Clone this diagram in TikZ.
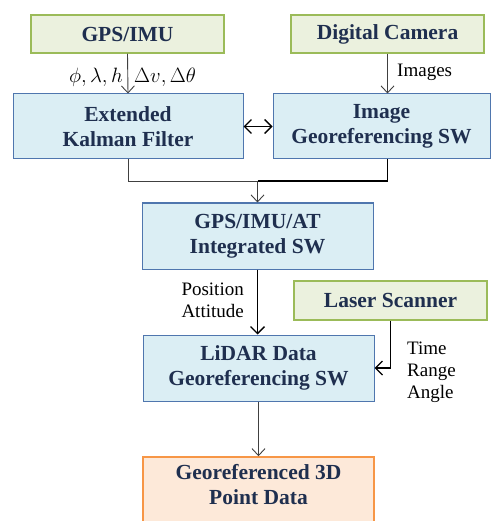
\documentclass[tikz,border=0pt]{standalone}
\usepackage{fontspec}
\setmainfont{Liberation Serif}
\usetikzlibrary{arrows.meta,positioning,calc}
\definecolor{navy}{HTML}{1F2F4F}
\definecolor{gfill}{HTML}{EBF1DE}
\definecolor{gline}{HTML}{9BBB59}
\definecolor{bfill}{HTML}{DBEEF4}
\definecolor{bline}{HTML}{4F76AE}
\definecolor{ofill}{HTML}{FDE9D9}
\definecolor{oline}{HTML}{F79646}
\definecolor{thin}{HTML}{404040}
\tikzset{
  box/.style={draw, line width=1.2pt, inner sep=0pt, align=center, text=navy,
    font=\fontsize{21.5}{25}\selectfont\bfseries},
  gbox/.style={box, fill=gfill, draw=gline, line width=1.5pt},
  bbox/.style={box, fill=bfill, draw=bline, line width=1pt},
  obox/.style={box, fill=ofill, draw=oline, line width=1.5pt},
  thinarr/.style={draw=thin, line width=0.9pt, -{Straight Barb[length=7pt,width=13pt]}},
  thinline/.style={draw=thin, line width=0.9pt},
  thickarr/.style={draw=black, line width=1.8pt, -{Straight Barb[length=7pt,width=14pt,line width=1.4pt]}},
  thickline/.style={draw=black, line width=1.8pt},
  lbl/.style={inner sep=0pt, text=black, font=\fontsize{19}{22}\selectfont, align=left},
  mlbl/.style={inner sep=0pt, text=black, font=\fontsize{20.5}{22}\selectfont}
}
\begin{document}
\begin{tikzpicture}[x=1pt,y=-1pt]
\useasboundingbox (0,0) rectangle (491,521);
\clip (0,0) rectangle (491,521);
\node[gbox, minimum width=193pt, minimum height=38pt] (gps) at (127.5,34) {GPS/IMU};
\node[gbox, minimum width=193pt, minimum height=38pt] (cam) at (387.5,34) {Digital Camera};
\node[bbox, minimum width=230pt, minimum height=65pt] (ekf) at (128,126.5) {Extended\\Kalman Filter};
\node[bbox, minimum width=217pt, minimum height=65pt] (igs) at (381.5,126.5) {Image\\Georeferencing SW};
\node[bbox, minimum width=231pt, minimum height=66pt] (int) at (257.5,236) {GPS/IMU/AT\\Integrated SW};
\node[gbox, minimum width=193pt, minimum height=39pt] (laser) at (390.5,300.5) {Laser Scanner};
\node[bbox, minimum width=231pt, minimum height=66pt] (lidar) at (258.5,368) {LiDAR Data\\Georeferencing SW};
\node[obox, minimum width=231pt, minimum height=74pt] (out) at (258.5,494) {};
\node[inner sep=0pt, align=center, text=navy, font=\fontsize{21.5}{25}\selectfont\bfseries] (outtxt) at (258.5,485) {Georeferenced 3D\\Point Data};

% GPS/IMU -> EKF
\draw[thinarr] (gps.south) -- (ekf.north);
\node[mlbl, anchor=east] (l1) at (123,77) {$\phi,\lambda,h$};
\node[mlbl, anchor=west] (l2) at (134,77) {$\Delta v,\Delta\theta$};

% Camera -> Image georef
\draw[thinarr] (cam.south) -- (cam.south |- igs.north);
\node[lbl, anchor=west] (l3) at (397,72) {Images};

% double arrow
\draw[thickline, {Straight Barb[length=7pt,width=14pt,line width=1.4pt]}-{Straight Barb[length=7pt,width=14pt,line width=1.4pt]}] (ekf.east) -- (igs.west);

% merge
\coordinate (j) at (257.5,181);
\draw[thinline] (ekf.south) |- (j);
\draw[thickline] (cam.south |- igs.south) |- (j);
\draw[thinarr] (j) -- (int.north);

% Integrated -> LiDAR
\draw[thickarr] (int.south) -- (int.south |- lidar.north);
\node[lbl, anchor=east, align=left] (l4) at (244,300) {Position\\Attitude};

% Laser -> LiDAR
\draw[thickarr] (laser.south) |- (lidar.east);
\node[lbl, align=left, anchor=west] (l5) at (407,372) {Time\\Range\\Angle};

% LiDAR -> output
\draw[thinarr] (lidar.south) -- (lidar.south |- out.north);
\end{tikzpicture}
\end{document}
